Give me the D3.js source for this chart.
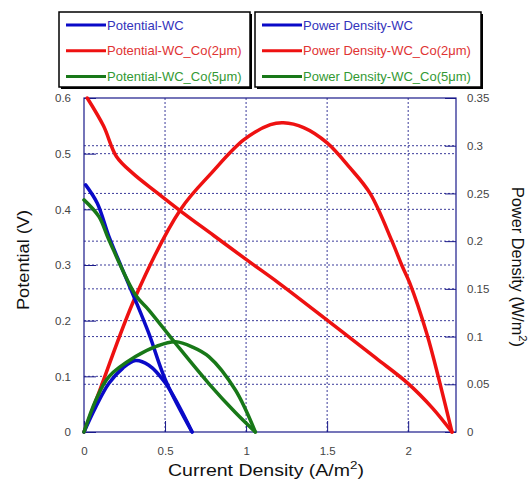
<!DOCTYPE html>
<html>
<head>
<meta charset="utf-8">
<script src="https://cdn.jsdelivr.net/npm/d3@7"></script>
<style>
  body { margin: 0; background: #fff; }
  svg { display: block; font-family: "Liberation Sans", Arial, sans-serif; }
</style>
</head>
<body>
<svg id="chart" width="528" height="481"></svg>
<script>
// current density (A/m2) vs potential (V) and power density (W/m2)
const potWC = [[0.01,0.444],[0.082,0.411],[0.154,0.351],[0.23,0.297],[0.308,0.243],[0.4,0.177],[0.503,0.093],[0.667,0]];
const potCo2 = [[0.02,0.6],[0.12,0.55],[0.2,0.495],[0.3,0.465],[0.45,0.43],[0.6,0.396],[0.8,0.353],[1.0,0.31],[1.2,0.268],[1.5,0.201],[1.8,0.133],[2.0,0.087],[2.15,0.043],[2.27,0]];
const potCo5 = [[0.0,0.417],[0.092,0.387],[0.154,0.345],[0.318,0.246],[0.4,0.219],[0.565,0.159],[0.77,0.087],[0.934,0.035],[1.057,0]];
const powWC = [[0.0,0.0],[0.072,0.026],[0.154,0.051],[0.24,0.067],[0.318,0.075],[0.4,0.07],[0.503,0.051],[0.667,0]];
const powCo2 = [[0.0,0.0],[0.1,0.045],[0.318,0.142],[0.595,0.233],[0.79,0.272],[0.985,0.306],[1.15,0.322],[1.23,0.324],[1.355,0.319],[1.5,0.303],[1.64,0.277],[1.765,0.25],[1.9,0.2],[1.96,0.175],[2.01,0.156],[2.115,0.103],[2.196,0.051],[2.27,0]];
const powCo5 = [[0.0,0.0],[0.072,0.033],[0.154,0.058],[0.318,0.079],[0.45,0.09],[0.565,0.0945],[0.67,0.089],[0.77,0.079],[0.934,0.044],[1.057,0]];

const xTicks = [0, 0.5, 1, 1.5, 2];
const yLeftTicks = [0, 0.1, 0.2, 0.3, 0.4, 0.5, 0.6];
const yRightTicks = [0, 0.05, 0.1, 0.15, 0.2, 0.25, 0.3, 0.35];

const legendLeft = [
  { label: "Potential-WC", color: "#0a0ac8", text: "#3333bb" },
  { label: "Potential-WC_Co(2\u03bcm)", color: "#ee1111", text: "#e03333" },
  { label: "Potential-WC_Co(5\u03bcm)", color: "#187818", text: "#339933" }
];
const legendRight = [
  { label: "Power Density-WC", color: "#0a0ac8", text: "#3333bb" },
  { label: "Power Density-WC_Co(2\u03bcm)", color: "#ee1111", text: "#e03333" },
  { label: "Power Density-WC_Co(5\u03bcm)", color: "#187818", text: "#339933" }
];

const svg = d3.select("#chart");
const pL = 84, pR = 456, pT = 98, pB = 432;
const axisColor = "#1a1a8a";

const x = d3.scaleLinear().domain([0, 2.295]).range([pL, pR]);
const yL = d3.scaleLinear().domain([0, 0.6]).range([pB, pT]);
const yR = d3.scaleLinear().domain([0, 0.35]).range([pB, pT]);

// grid
const grid = svg.append("g").attr("stroke", axisColor).attr("stroke-width", 1).attr("stroke-dasharray", "2,2").attr("opacity", 0.85);
xTicks.slice(1).forEach(t => grid.append("line").attr("x1", x(t)).attr("x2", x(t)).attr("y1", pT).attr("y2", pB));
yLeftTicks.slice(1, -1).forEach(t => grid.append("line").attr("x1", pL).attr("x2", pR).attr("y1", yL(t)).attr("y2", yL(t)));
yRightTicks.slice(1, -1).forEach(t => grid.append("line").attr("x1", pL).attr("x2", pR).attr("y1", yR(t)).attr("y2", yR(t)));

// axes (inner ticks)
const tickFmt = d => d === 0 ? "0" : d3.format("")(d);
const ax = (g) => { g.select(".domain").remove(); g.selectAll(".tick line").attr("stroke", axisColor); g.selectAll(".tick text").attr("fill", "#444").attr("font-size", 11.5); };
svg.append("g").attr("transform", `translate(0,${pB})`)
  .call(d3.axisBottom(x).tickValues(xTicks).tickSize(-11).tickPadding(15).tickFormat(tickFmt)).call(ax);
svg.append("g").attr("transform", `translate(${pL},0)`)
  .call(d3.axisLeft(yL).tickValues(yLeftTicks).tickSize(-12).tickPadding(13).tickFormat(tickFmt)).call(ax);
svg.append("g").attr("transform", `translate(${pR},0)`)
  .call(d3.axisRight(yR).tickValues(yRightTicks).tickSize(-11).tickPadding(11).tickFormat(tickFmt)).call(ax);

svg.append("rect").attr("x", pL).attr("y", pT).attr("width", pR - pL).attr("height", pB - pT)
  .attr("fill", "none").attr("stroke", axisColor).attr("stroke-width", 1.2);

// curves
const lineL = d3.line().x(d => x(d[0])).y(d => yL(d[1])).curve(d3.curveCatmullRom);
const lineR = d3.line().x(d => x(d[0])).y(d => yR(d[1])).curve(d3.curveCatmullRom);
const series = [
  [potCo2, lineL, "#ee1111"], [powCo2, lineR, "#ee1111"],
  [potWC, lineL, "#0a0ac8"], [powWC, lineR, "#0a0ac8"],
  [potCo5, lineL, "#187818"], [powCo5, lineR, "#187818"]
];
series.forEach(([data, line, color]) => {
  svg.append("path").datum(data).attr("fill", "none").attr("stroke", color)
    .attr("stroke-width", 3.5).attr("stroke-linejoin", "round").attr("stroke-linecap", "round").attr("d", line);
});

// axis titles
svg.append("text").attr("x", 266).attr("y", 476).attr("text-anchor", "middle").attr("font-size", 16).attr("fill", "#111")
  .attr("textLength", 196).attr("lengthAdjust", "spacingAndGlyphs")
  .html('Current Density (A/m<tspan dy="-7" font-size="11">2</tspan><tspan dy="7">)</tspan>');
svg.append("text").attr("transform", "translate(29,260) rotate(-90)").attr("text-anchor", "middle").attr("font-size", 16).attr("fill", "#111")
  .attr("textLength", 100).attr("lengthAdjust", "spacingAndGlyphs")
  .text("Potential (V)");
svg.append("text").attr("transform", "translate(512,267) rotate(90)").attr("text-anchor", "middle").attr("font-size", 16).attr("fill", "#111")
  .attr("textLength", 160).attr("lengthAdjust", "spacingAndGlyphs")
  .html('Power Density (W/m<tspan dy="-7" font-size="11">2</tspan><tspan dy="7">)</tspan>');

// legend boxes
function legendBox(x0, w, items) {
  const g = svg.append("g");
  g.append("rect").attr("x", x0 + 2).attr("y", 14).attr("width", w).attr("height", 75).attr("fill", "#000");
  g.append("rect").attr("x", x0).attr("y", 12).attr("width", w).attr("height", 75).attr("fill", "#fff").attr("stroke", "#000").attr("stroke-width", 1.5);
  items.forEach((it, i) => {
    const yy = 25 + i * 25.8;
    g.append("line").attr("x1", x0 + 7).attr("x2", x0 + 47).attr("y1", yy).attr("y2", yy).attr("stroke", it.color).attr("stroke-width", 3);
    g.append("text").attr("x", x0 + 48).attr("y", yy + 4.5).attr("font-size", 13).attr("fill", it.text).text(it.label);
  });
}
legendBox(59, 191, legendLeft);
legendBox(255, 226, legendRight);
</script>
</body>
</html>
